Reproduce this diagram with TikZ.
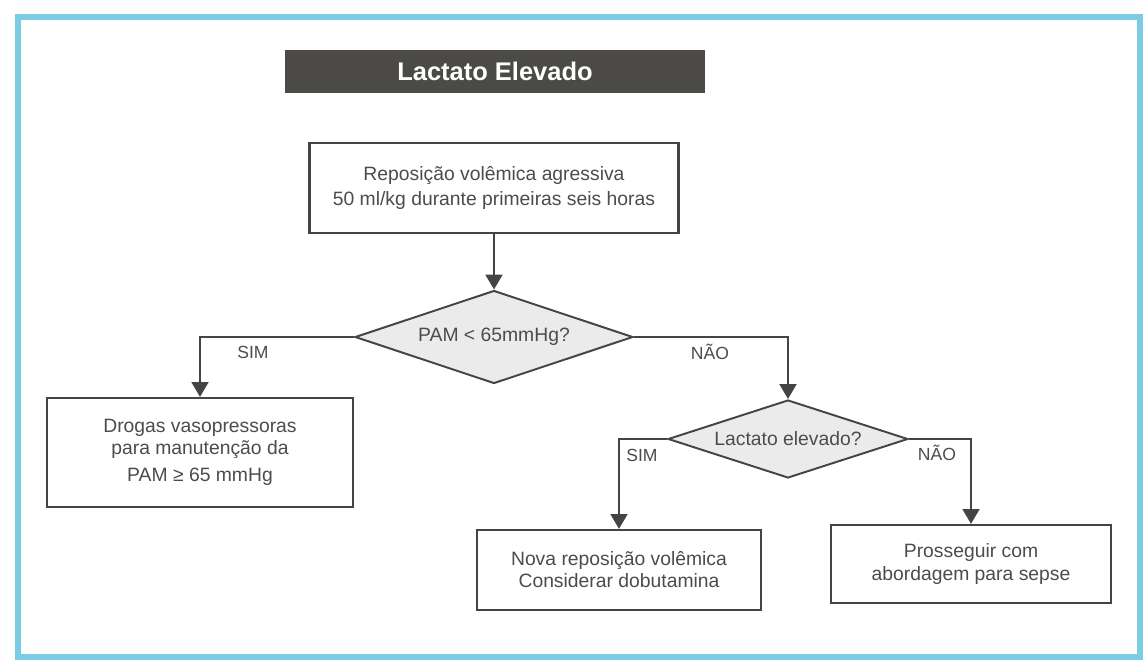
\documentclass[tikz,border=0pt]{standalone}
\usepackage{fontspec}
\setmainfont{Liberation Sans}
\usetikzlibrary{shapes.geometric,arrows.meta}
\definecolor{framecyan}{HTML}{7CCDE3}
\definecolor{titlegray}{HTML}{4B4A47}
\definecolor{inkgray}{HTML}{444444}
\definecolor{txtgray}{HTML}{4C4C4C}
\definecolor{diafill}{HTML}{EBEBEB}
\begin{document}
\begin{tikzpicture}[x=0.02cm,y=-0.02cm,
  box/.style={draw=inkgray, line width=1.2pt, fill=white, text=txtgray, align=center, inner sep=2pt},
  decision/.style={diamond, aspect=3, draw=inkgray, line width=1.1pt, fill=diafill, text=txtgray, inner sep=0pt, font=\fontsize{11}{13}\selectfont},
  flow/.style={draw=inkgray, line width=1.6pt, -{Triangle[length=8.5pt,width=9.5pt]}},
  lbl/.style={text=txtgray, font=\fontsize{10}{12}\selectfont, inner sep=0pt}]
\useasboundingbox (0,0) rectangle (1144,663);
\fill[white] (0,0) rectangle (1144,663);
% outer frame
\draw[framecyan, line width=3pt] (18,17) rectangle (1140,657);
% title bar
\node[fill=titlegray, minimum width=8.4cm, minimum height=0.86cm, text=white,
      font=\bfseries\fontsize{14.5}{16}\selectfont] (title) at (495,71.5) {Lactato Elevado};
% boxes
\node[box, minimum width=7.38cm, minimum height=1.8cm, font=\fontsize{11}{14}\selectfont]
  (fluids) at (494,188) {Reposição volêmica agressiva\\50 ml/kg durante primeiras seis horas};
\node[box, minimum width=6.12cm, minimum height=2.18cm, font=\fontsize{11}{12.5}\selectfont]
  (vaso) at (200,452.5) {Drogas vasopressoras\\para manutenção da\\[3pt]PAM ≥ 65 mmHg};
\node[box, minimum width=5.68cm, minimum height=1.6cm, font=\fontsize{11}{12.5}\selectfont]
  (repos) at (619,570) {Nova reposição volêmica\\Considerar dobutamina};
\node[box, minimum width=5.6cm, minimum height=1.56cm, font=\fontsize{11}{13}\selectfont]
  (sepse) at (971,564) {Prosseguir com\\abordagem para sepse};
% decisions
\node[decision, minimum width=5.56cm, minimum height=1.86cm] (pam) at (494,337) {PAM < 65mmHg?};
\node[decision, minimum width=4.8cm, minimum height=1.56cm] (lact) at (788,439) {Lactato elevado?};
% connectors
\draw[flow] (fluids.south) -- (pam.north);
\draw[flow] (pam.west) -| (vaso.north);
\draw[flow] (pam.east) -| (lact.north);
\draw[flow] (lact.west) -| (repos.north);
\draw[flow] (lact.east) -| (sepse.north);
% branch labels
\node[lbl] (simA) at (253,352) {SIM};
\node[lbl] (naoA) at (710,352) {NÃO};
\node[lbl] (simB) at (642,455) {SIM};
\node[lbl] (naoB) at (937,453) {NÃO};
\end{tikzpicture}
\end{document}
